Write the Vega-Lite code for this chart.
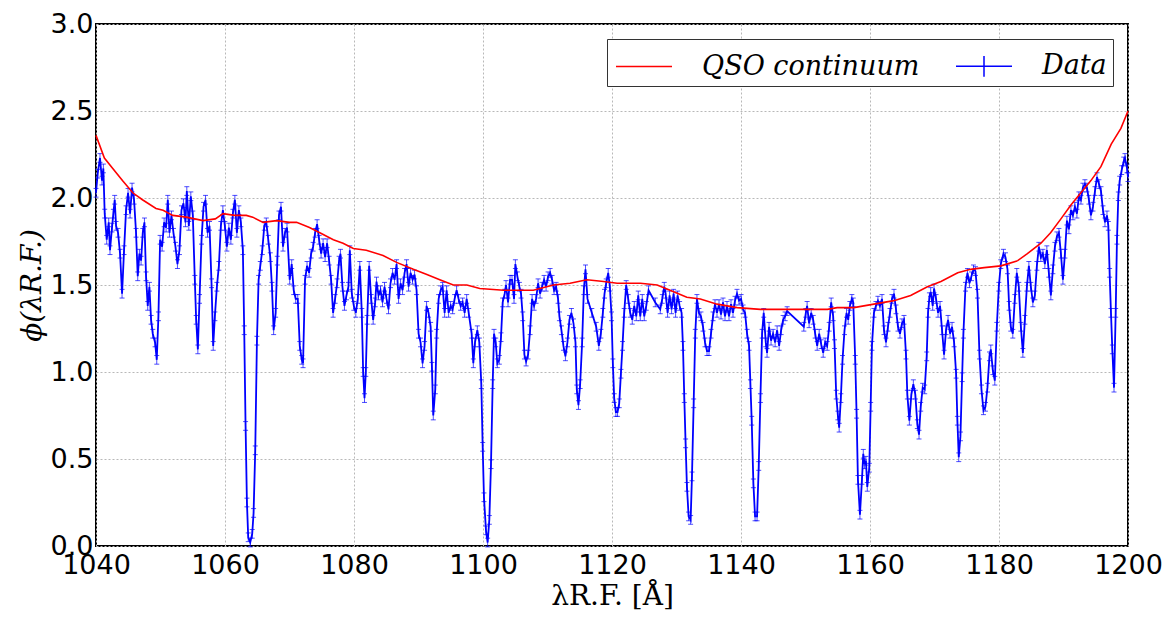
{
  "$schema": "https://vega.github.io/schema/vega-lite/v6.json",
  "autosize": {"type": "none"},
  "padding": {"left": 96, "top": 24, "right": 39, "bottom": 75},
  "width": 1032,
  "height": 522,
  "background": "white",
  "config": {
    "view": {"stroke": "#000000", "strokeWidth": 2},
    "axis": {
      "domain": false,
      "ticks": false,
      "tickSize": 0,
      "grid": true,
      "gridColor": "#b8b8b8",
      "gridDash": [2, 2],
      "gridWidth": 1,
      "labelFont": "DejaVu Sans",
      "labelFontSize": 27,
      "labelColor": "#000000",
      "labelOverlap": false,
      "labelFlush": false,
      "titleColor": "#000000",
      "titleFontWeight": "normal"
    }
  },
  "datasets": {
    "cont": [
      {"x":1040.0,"y":2.36},{"x":1041.3,"y":2.23},{"x":1042.6,"y":2.17},{"x":1044.1,"y":2.10},{"x":1045.7,"y":2.03},{"x":1047.2,"y":1.99},{"x":1049.3,"y":1.94},{"x":1050.4,"y":1.93},{"x":1051.9,"y":1.90},{"x":1054.0,"y":1.89},{"x":1056.6,"y":1.87},{"x":1058.5,"y":1.88},{"x":1059.7,"y":1.91},{"x":1061.5,"y":1.90},{"x":1063.3,"y":1.90},{"x":1064.3,"y":1.89},{"x":1065.9,"y":1.86},{"x":1068.0,"y":1.87},{"x":1070.0,"y":1.86},{"x":1071.1,"y":1.86},{"x":1073.1,"y":1.83},{"x":1074.7,"y":1.80},{"x":1076.8,"y":1.76},{"x":1078.3,"y":1.74},{"x":1079.9,"y":1.71},{"x":1081.9,"y":1.70},{"x":1084.5,"y":1.67},{"x":1086.6,"y":1.63},{"x":1089.2,"y":1.59},{"x":1091.3,"y":1.56},{"x":1093.3,"y":1.53},{"x":1095.4,"y":1.50},{"x":1097.5,"y":1.50},{"x":1099.5,"y":1.48},{"x":1103.2,"y":1.47},{"x":1107.8,"y":1.47},{"x":1110.9,"y":1.50},{"x":1113.5,"y":1.51},{"x":1116.1,"y":1.53},{"x":1118.7,"y":1.52},{"x":1120.8,"y":1.51},{"x":1124.4,"y":1.51},{"x":1127.0,"y":1.50},{"x":1129.0,"y":1.47},{"x":1131.6,"y":1.43},{"x":1133.7,"y":1.42},{"x":1136.3,"y":1.39},{"x":1139.4,"y":1.37},{"x":1143.0,"y":1.36},{"x":1145.6,"y":1.36},{"x":1148.2,"y":1.36},{"x":1150.8,"y":1.36},{"x":1153.4,"y":1.36},{"x":1154.9,"y":1.37},{"x":1157.5,"y":1.37},{"x":1160.6,"y":1.39},{"x":1163.7,"y":1.41},{"x":1166.3,"y":1.44},{"x":1168.9,"y":1.49},{"x":1171.0,"y":1.52},{"x":1173.6,"y":1.57},{"x":1175.6,"y":1.59},{"x":1177.7,"y":1.60},{"x":1180.3,"y":1.61},{"x":1182.9,"y":1.64},{"x":1184.4,"y":1.68},{"x":1186.5,"y":1.74},{"x":1188.0,"y":1.80},{"x":1189.6,"y":1.88},{"x":1191.15,"y":1.96},{"x":1192.7,"y":2.03},{"x":1194.25,"y":2.10},{"x":1195.8,"y":2.18},{"x":1197.4,"y":2.31},{"x":1198.9,"y":2.40},{"x":1200.0,"y":2.50}
    ],
    "obs": [
      {"x":1040.0,"y":2.03,"e":0.025},{"x":1040.26,"y":2.14,"e":0.025},{"x":1040.62,"y":2.23,"e":0.025},{"x":1040.93,"y":2.10,"e":0.025},{"x":1041.14,"y":2.17,"e":0.025},{"x":1041.35,"y":1.91,"e":0.025},{"x":1041.66,"y":1.76,"e":0.025},{"x":1041.97,"y":1.86,"e":0.025},{"x":1042.17,"y":1.70,"e":0.025},{"x":1042.48,"y":1.83,"e":0.025},{"x":1042.69,"y":1.91,"e":0.025},{"x":1042.90,"y":1.99,"e":0.025},{"x":1043.11,"y":1.84,"e":0.025},{"x":1043.42,"y":1.80,"e":0.025},{"x":1043.73,"y":1.68,"e":0.025},{"x":1044.04,"y":1.45,"e":0.025},{"x":1044.35,"y":1.70,"e":0.025},{"x":1044.66,"y":1.93,"e":0.025},{"x":1044.97,"y":2.03,"e":0.025},{"x":1045.28,"y":1.91,"e":0.025},{"x":1045.59,"y":2.06,"e":0.025},{"x":1045.90,"y":1.99,"e":0.025},{"x":1046.21,"y":1.80,"e":0.025},{"x":1046.47,"y":1.55,"e":0.025},{"x":1046.73,"y":1.68,"e":0.025},{"x":1046.99,"y":1.64,"e":0.025},{"x":1047.25,"y":1.80,"e":0.025},{"x":1047.51,"y":1.86,"e":0.025},{"x":1047.76,"y":1.55,"e":0.025},{"x":1048.02,"y":1.38,"e":0.025},{"x":1048.28,"y":1.49,"e":0.025},{"x":1048.54,"y":1.30,"e":0.025},{"x":1048.80,"y":1.22,"e":0.025},{"x":1049.16,"y":1.17,"e":0.025},{"x":1049.42,"y":1.07,"e":0.025},{"x":1049.68,"y":1.32,"e":0.025},{"x":1049.94,"y":1.76,"e":0.025},{"x":1050.25,"y":1.72,"e":0.025},{"x":1050.56,"y":1.86,"e":0.025},{"x":1050.87,"y":1.83,"e":0.025},{"x":1051.13,"y":1.99,"e":0.025},{"x":1051.39,"y":1.80,"e":0.025},{"x":1051.70,"y":1.90,"e":0.025},{"x":1052.01,"y":1.80,"e":0.025},{"x":1052.32,"y":1.72,"e":0.025},{"x":1052.63,"y":1.62,"e":0.025},{"x":1052.94,"y":1.70,"e":0.025},{"x":1053.25,"y":1.93,"e":0.025},{"x":1053.56,"y":1.97,"e":0.025},{"x":1053.87,"y":1.86,"e":0.025},{"x":1054.08,"y":2.04,"e":0.025},{"x":1054.39,"y":1.84,"e":0.025},{"x":1054.70,"y":2.01,"e":0.025},{"x":1055.01,"y":1.90,"e":0.025},{"x":1055.32,"y":1.53,"e":0.025},{"x":1055.53,"y":1.30,"e":0.025},{"x":1055.79,"y":1.13,"e":0.025},{"x":1056.05,"y":1.42,"e":0.025},{"x":1056.36,"y":1.76,"e":0.025},{"x":1056.67,"y":1.95,"e":0.025},{"x":1056.98,"y":1.99,"e":0.025},{"x":1057.29,"y":1.80,"e":0.025},{"x":1057.60,"y":1.84,"e":0.025},{"x":1057.91,"y":1.51,"e":0.025},{"x":1058.17,"y":1.15,"e":0.025},{"x":1058.43,"y":1.32,"e":0.025},{"x":1058.74,"y":1.49,"e":0.025},{"x":1059.05,"y":1.61,"e":0.025},{"x":1059.36,"y":1.84,"e":0.025},{"x":1059.67,"y":1.93,"e":0.025},{"x":1059.98,"y":1.84,"e":0.025},{"x":1060.29,"y":1.72,"e":0.025},{"x":1060.60,"y":1.83,"e":0.025},{"x":1060.91,"y":1.76,"e":0.025},{"x":1061.22,"y":1.91,"e":0.025},{"x":1061.53,"y":1.99,"e":0.025},{"x":1061.84,"y":1.80,"e":0.025},{"x":1062.15,"y":1.93,"e":0.025},{"x":1062.46,"y":1.86,"e":0.025},{"x":1062.77,"y":1.70,"e":0.025},{"x":1062.98,"y":1.24,"e":0.025},{"x":1063.19,"y":0.69,"e":0.025},{"x":1063.40,"y":0.25,"e":0.025},{"x":1063.60,"y":0.05,"e":0.025},{"x":1063.91,"y":0.02,"e":0.025},{"x":1064.22,"y":0.07,"e":0.025},{"x":1064.43,"y":0.19,"e":0.025},{"x":1064.69,"y":0.55,"e":0.025},{"x":1064.95,"y":1.18,"e":0.025},{"x":1065.21,"y":1.53,"e":0.025},{"x":1065.47,"y":1.61,"e":0.025},{"x":1065.78,"y":1.70,"e":0.025},{"x":1066.09,"y":1.84,"e":0.025},{"x":1066.40,"y":1.86,"e":0.025},{"x":1066.71,"y":1.76,"e":0.025},{"x":1067.02,"y":1.66,"e":0.025},{"x":1067.28,"y":1.49,"e":0.025},{"x":1067.54,"y":1.24,"e":0.025},{"x":1067.85,"y":1.34,"e":0.025},{"x":1068.11,"y":1.64,"e":0.025},{"x":1068.37,"y":1.90,"e":0.025},{"x":1068.68,"y":1.95,"e":0.025},{"x":1068.99,"y":1.72,"e":0.025},{"x":1069.30,"y":1.80,"e":0.025},{"x":1069.61,"y":1.83,"e":0.025},
      {"x":1070.03,"y":1.53,"e":0.025},{"x":1070.34,"y":1.62,"e":0.025},{"x":1070.65,"y":1.47,"e":0.025},{"x":1070.96,"y":1.42,"e":0.025},{"x":1071.28,"y":1.42,"e":0.025},{"x":1071.59,"y":1.15,"e":0.025},{"x":1071.90,"y":1.07,"e":0.025},{"x":1072.10,"y":1.05,"e":0.025},{"x":1072.41,"y":1.53,"e":0.025},{"x":1072.72,"y":1.61,"e":0.025},{"x":1073.04,"y":1.57,"e":0.025},{"x":1073.35,"y":1.68,"e":0.025},{"x":1073.66,"y":1.72,"e":0.025},{"x":1073.97,"y":1.80,"e":0.025},{"x":1074.28,"y":1.85,"e":0.025},{"x":1074.59,"y":1.76,"e":0.025},{"x":1074.90,"y":1.68,"e":0.025},{"x":1075.21,"y":1.74,"e":0.025},{"x":1075.52,"y":1.66,"e":0.025},{"x":1075.83,"y":1.74,"e":0.025},{"x":1076.14,"y":1.64,"e":0.025},{"x":1076.45,"y":1.53,"e":0.025},{"x":1076.76,"y":1.34,"e":0.025},{"x":1077.07,"y":1.42,"e":0.025},{"x":1077.38,"y":1.51,"e":0.025},{"x":1077.69,"y":1.64,"e":0.025},{"x":1077.90,"y":1.68,"e":0.025},{"x":1078.21,"y":1.49,"e":0.025},{"x":1078.52,"y":1.38,"e":0.025},{"x":1078.83,"y":1.44,"e":0.025},{"x":1079.14,"y":1.49,"e":0.025},{"x":1079.35,"y":1.70,"e":0.025},{"x":1079.66,"y":1.45,"e":0.025},{"x":1079.97,"y":1.38,"e":0.025},{"x":1080.28,"y":1.34,"e":0.025},{"x":1080.59,"y":1.42,"e":0.025},{"x":1080.90,"y":1.61,"e":0.025},{"x":1081.21,"y":1.34,"e":0.025},{"x":1081.42,"y":1.00,"e":0.025},{"x":1081.63,"y":0.85,"e":0.025},{"x":1081.83,"y":1.00,"e":0.025},{"x":1082.04,"y":1.30,"e":0.025},{"x":1082.35,"y":1.61,"e":0.025},{"x":1082.66,"y":1.42,"e":0.025},{"x":1082.97,"y":1.30,"e":0.025},{"x":1083.28,"y":1.40,"e":0.025},{"x":1083.49,"y":1.52,"e":0.025},{"x":1083.80,"y":1.44,"e":0.025},{"x":1084.11,"y":1.47,"e":0.025},{"x":1084.42,"y":1.40,"e":0.025},{"x":1084.73,"y":1.49,"e":0.025},{"x":1085.04,"y":1.42,"e":0.025},{"x":1085.35,"y":1.36,"e":0.025},{"x":1085.66,"y":1.51,"e":0.025},{"x":1085.98,"y":1.57,"e":0.025},{"x":1086.29,"y":1.53,"e":0.025},{"x":1086.60,"y":1.62,"e":0.025},{"x":1086.91,"y":1.42,"e":0.025},{"x":1087.22,"y":1.51,"e":0.025},{"x":1087.53,"y":1.47,"e":0.025},{"x":1087.84,"y":1.57,"e":0.025},{"x":1088.15,"y":1.62,"e":0.025},{"x":1088.46,"y":1.49,"e":0.025},{"x":1088.77,"y":1.57,"e":0.025},{"x":1089.08,"y":1.53,"e":0.025},{"x":1089.39,"y":1.56,"e":0.025},{"x":1089.70,"y":1.47,"e":0.025},{"x":1090.01,"y":1.22,"e":0.025},{"x":1090.32,"y":1.17,"e":0.025},{"x":1090.63,"y":1.05,"e":0.025},{"x":1090.94,"y":1.15,"e":0.025},{"x":1091.25,"y":1.38,"e":0.025},{"x":1091.56,"y":1.34,"e":0.025},{"x":1091.88,"y":1.26,"e":0.025},{"x":1092.08,"y":1.03,"e":0.025},{"x":1092.29,"y":0.75,"e":0.025},{"x":1092.60,"y":0.90,"e":0.025},{"x":1092.81,"y":1.22,"e":0.025},{"x":1093.12,"y":1.42,"e":0.025},{"x":1093.43,"y":1.47,"e":0.025},{"x":1093.74,"y":1.49,"e":0.025},{"x":1094.05,"y":1.34,"e":0.025},{"x":1094.36,"y":1.47,"e":0.025},{"x":1094.67,"y":1.34,"e":0.025},{"x":1094.98,"y":1.38,"e":0.025},{"x":1095.29,"y":1.36,"e":0.025},{"x":1095.60,"y":1.42,"e":0.025},{"x":1095.91,"y":1.47,"e":0.025},{"x":1096.22,"y":1.42,"e":0.025},{"x":1096.53,"y":1.38,"e":0.025},{"x":1096.84,"y":1.40,"e":0.025},{"x":1097.15,"y":1.34,"e":0.025},{"x":1097.47,"y":1.42,"e":0.025},{"x":1097.78,"y":1.34,"e":0.025},
      {"x":1098.24,"y":1.22,"e":0.025},{"x":1098.50,"y":1.05,"e":0.025},{"x":1098.76,"y":1.17,"e":0.025},{"x":1099.12,"y":1.24,"e":0.025},{"x":1099.43,"y":1.17,"e":0.025},{"x":1099.74,"y":0.93,"e":0.025},{"x":1099.95,"y":0.57,"e":0.025},{"x":1100.15,"y":0.28,"e":0.025},{"x":1100.46,"y":0.09,"e":0.025},{"x":1100.72,"y":0.02,"e":0.025},{"x":1100.98,"y":0.15,"e":0.025},{"x":1101.24,"y":0.47,"e":0.025},{"x":1101.50,"y":0.93,"e":0.025},{"x":1101.71,"y":1.22,"e":0.025},{"x":1101.97,"y":1.17,"e":0.025},{"x":1102.22,"y":1.05,"e":0.025},{"x":1102.53,"y":1.07,"e":0.025},{"x":1102.79,"y":1.20,"e":0.025},{"x":1103.05,"y":1.40,"e":0.025},{"x":1103.36,"y":1.45,"e":0.025},{"x":1103.57,"y":1.50,"e":0.025},{"x":1103.88,"y":1.40,"e":0.025},{"x":1104.19,"y":1.53,"e":0.025},{"x":1104.50,"y":1.53,"e":0.025},{"x":1104.81,"y":1.42,"e":0.025},{"x":1105.02,"y":1.62,"e":0.025},{"x":1105.33,"y":1.55,"e":0.025},{"x":1105.64,"y":1.49,"e":0.025},{"x":1105.90,"y":1.45,"e":0.025},{"x":1106.16,"y":1.32,"e":0.025},{"x":1106.42,"y":1.10,"e":0.025},{"x":1106.68,"y":1.06,"e":0.025},{"x":1106.99,"y":1.10,"e":0.025},{"x":1107.30,"y":1.24,"e":0.025},{"x":1107.61,"y":1.42,"e":0.025},{"x":1107.92,"y":1.38,"e":0.025},{"x":1108.23,"y":1.42,"e":0.025},{"x":1108.54,"y":1.51,"e":0.025},{"x":1108.85,"y":1.45,"e":0.025},{"x":1109.16,"y":1.49,"e":0.025},{"x":1109.47,"y":1.53,"e":0.025},{"x":1109.78,"y":1.49,"e":0.025},{"x":1110.09,"y":1.55,"e":0.025},{"x":1110.40,"y":1.57,"e":0.025},{"x":1110.71,"y":1.53,"e":0.025},{"x":1111.02,"y":1.47,"e":0.025},{"x":1111.33,"y":1.49,"e":0.025},{"x":1111.64,"y":1.42,"e":0.025},{"x":1111.85,"y":1.32,"e":0.025},{"x":1112.16,"y":1.24,"e":0.025},{"x":1112.47,"y":1.15,"e":0.025},{"x":1112.78,"y":1.09,"e":0.025},{"x":1113.09,"y":1.17,"e":0.025},{"x":1113.40,"y":1.30,"e":0.025},{"x":1113.71,"y":1.34,"e":0.025},{"x":1114.03,"y":1.28,"e":0.025},{"x":1114.34,"y":1.17,"e":0.025},{"x":1114.54,"y":0.90,"e":0.025},{"x":1114.80,"y":0.81,"e":0.025},{"x":1115.06,"y":0.93,"e":0.025},{"x":1115.37,"y":1.17,"e":0.025},{"x":1115.63,"y":1.47,"e":0.025},{"x":1115.89,"y":1.59,"e":0.025},{"x":1116.20,"y":1.42,"e":0.025},{"x":1116.87,"y":1.34,"e":0.025},{"x":1117.55,"y":1.26,"e":0.025},{"x":1117.96,"y":1.15,"e":0.025},{"x":1118.27,"y":1.22,"e":0.025},{"x":1118.58,"y":1.34,"e":0.025},{"x":1118.84,"y":1.45,"e":0.025},{"x":1119.10,"y":1.51,"e":0.025},{"x":1119.41,"y":1.57,"e":0.025},{"x":1119.67,"y":1.49,"e":0.025},{"x":1119.93,"y":1.32,"e":0.025},{"x":1120.13,"y":1.05,"e":0.025},{"x":1120.34,"y":0.85,"e":0.025},{"x":1120.60,"y":0.77,"e":0.025},{"x":1120.86,"y":0.77,"e":0.025},{"x":1121.12,"y":0.82,"e":0.025},{"x":1121.38,"y":0.99,"e":0.025},{"x":1121.63,"y":1.15,"e":0.025},{"x":1121.89,"y":1.34,"e":0.025},{"x":1122.20,"y":1.50,"e":0.025},{"x":1122.51,"y":1.42,"e":0.025},{"x":1122.82,"y":1.34,"e":0.025},{"x":1123.14,"y":1.30,"e":0.025},{"x":1123.45,"y":1.38,"e":0.025},{"x":1123.76,"y":1.32,"e":0.025},{"x":1124.07,"y":1.44,"e":0.025},{"x":1124.38,"y":1.32,"e":0.025},{"x":1124.69,"y":1.42,"e":0.025},{"x":1125.00,"y":1.32,"e":0.025},{"x":1125.31,"y":1.38,"e":0.025},{"x":1125.67,"y":1.47,"e":0.025},{"x":1126.71,"y":1.40,"e":0.025},
      {"x":1127.48,"y":1.36,"e":0.025},{"x":1127.79,"y":1.42,"e":0.025},{"x":1128.10,"y":1.49,"e":0.025},{"x":1128.31,"y":1.45,"e":0.025},{"x":1128.62,"y":1.34,"e":0.025},{"x":1128.93,"y":1.44,"e":0.025},{"x":1129.24,"y":1.36,"e":0.025},{"x":1129.55,"y":1.45,"e":0.025},{"x":1129.86,"y":1.34,"e":0.025},{"x":1130.17,"y":1.44,"e":0.025},{"x":1130.48,"y":1.38,"e":0.025},{"x":1130.79,"y":1.34,"e":0.025},{"x":1131.00,"y":1.15,"e":0.025},{"x":1131.21,"y":0.85,"e":0.025},{"x":1131.41,"y":0.59,"e":0.025},{"x":1131.62,"y":0.34,"e":0.025},{"x":1131.88,"y":0.17,"e":0.025},{"x":1132.19,"y":0.15,"e":0.025},{"x":1132.40,"y":0.40,"e":0.025},{"x":1132.66,"y":0.82,"e":0.025},{"x":1132.91,"y":1.22,"e":0.025},{"x":1133.17,"y":1.42,"e":0.025},{"x":1133.48,"y":1.34,"e":0.025},{"x":1133.79,"y":1.32,"e":0.025},{"x":1134.11,"y":1.26,"e":0.025},{"x":1134.42,"y":1.17,"e":0.025},{"x":1134.73,"y":1.12,"e":0.025},{"x":1135.04,"y":1.12,"e":0.025},{"x":1135.35,"y":1.22,"e":0.025},{"x":1135.66,"y":1.32,"e":0.025},{"x":1135.97,"y":1.39,"e":0.025},{"x":1136.28,"y":1.34,"e":0.025},{"x":1136.59,"y":1.39,"e":0.025},{"x":1136.90,"y":1.33,"e":0.025},{"x":1137.21,"y":1.40,"e":0.025},{"x":1137.52,"y":1.32,"e":0.025},{"x":1137.83,"y":1.38,"e":0.025},{"x":1138.14,"y":1.32,"e":0.025},{"x":1138.45,"y":1.39,"e":0.025},{"x":1138.76,"y":1.34,"e":0.025},{"x":1139.07,"y":1.41,"e":0.025},{"x":1139.38,"y":1.45,"e":0.025},{"x":1139.70,"y":1.41,"e":0.025},{"x":1140.01,"y":1.42,"e":0.025},{"x":1140.32,"y":1.36,"e":0.025},{"x":1140.63,"y":1.34,"e":0.025},{"x":1140.94,"y":1.22,"e":0.025},{"x":1141.25,"y":1.15,"e":0.025},{"x":1141.46,"y":0.93,"e":0.025},{"x":1141.66,"y":0.72,"e":0.025},{"x":1141.92,"y":0.36,"e":0.025},{"x":1142.18,"y":0.17,"e":0.025},{"x":1142.49,"y":0.17,"e":0.025},{"x":1142.75,"y":0.46,"e":0.025},{"x":1143.01,"y":0.85,"e":0.025},{"x":1143.27,"y":1.22,"e":0.025},{"x":1143.52,"y":1.34,"e":0.025},{"x":1143.84,"y":1.17,"e":0.025},{"x":1144.04,"y":1.11,"e":0.025},{"x":1144.35,"y":1.26,"e":0.025},{"x":1144.66,"y":1.18,"e":0.025},{"x":1144.97,"y":1.22,"e":0.025},{"x":1145.29,"y":1.17,"e":0.025},{"x":1145.60,"y":1.24,"e":0.025},{"x":1145.91,"y":1.15,"e":0.025},{"x":1146.22,"y":1.24,"e":0.025},{"x":1146.53,"y":1.30,"e":0.025},{"x":1146.84,"y":1.32,"e":0.025},{"x":1147.15,"y":1.35,"e":0.025},{"x":1149.74,"y":1.26,"e":0.025},{"x":1150.05,"y":1.34,"e":0.025},{"x":1150.25,"y":1.38,"e":0.025},{"x":1150.56,"y":1.28,"e":0.025},{"x":1150.88,"y":1.34,"e":0.025},{"x":1151.19,"y":1.30,"e":0.025},{"x":1151.50,"y":1.22,"e":0.025},{"x":1151.81,"y":1.15,"e":0.025},{"x":1152.12,"y":1.22,"e":0.025},{"x":1152.43,"y":1.16,"e":0.025},{"x":1152.74,"y":1.11,"e":0.025},{"x":1153.05,"y":1.17,"e":0.025},{"x":1153.36,"y":1.15,"e":0.025},{"x":1153.67,"y":1.26,"e":0.025},{"x":1153.98,"y":1.40,"e":0.025},{"x":1154.29,"y":1.32,"e":0.025},{"x":1154.50,"y":1.16,"e":0.025},{"x":1154.76,"y":0.87,"e":0.025},{"x":1155.02,"y":0.75,"e":0.025},{"x":1155.22,"y":0.68,"e":0.025},{"x":1155.48,"y":0.85,"e":0.025},{"x":1155.74,"y":1.07,"e":0.025},{"x":1156.05,"y":1.24,"e":0.025},{"x":1156.36,"y":1.34,"e":0.025},{"x":1156.62,"y":1.30,"e":0.025},{"x":1156.88,"y":1.38,"e":0.025},{"x":1157.19,"y":1.42,"e":0.025},{"x":1157.40,"y":1.40,"e":0.025},
      {"x":1157.71,"y":1.07,"e":0.025},{"x":1157.92,"y":0.76,"e":0.025},{"x":1158.13,"y":0.38,"e":0.025},{"x":1158.44,"y":0.18,"e":0.025},{"x":1158.75,"y":0.38,"e":0.025},{"x":1158.96,"y":0.53,"e":0.025},{"x":1159.16,"y":0.47,"e":0.025},{"x":1159.37,"y":0.49,"e":0.025},{"x":1159.58,"y":0.34,"e":0.025},{"x":1159.89,"y":0.45,"e":0.025},{"x":1160.10,"y":0.80,"e":0.025},{"x":1160.30,"y":1.15,"e":0.025},{"x":1160.61,"y":1.34,"e":0.025},{"x":1160.92,"y":1.38,"e":0.025},{"x":1161.23,"y":1.41,"e":0.025},{"x":1161.54,"y":1.38,"e":0.025},{"x":1161.86,"y":1.42,"e":0.025},{"x":1162.17,"y":1.24,"e":0.025},{"x":1162.48,"y":1.17,"e":0.025},{"x":1162.79,"y":1.26,"e":0.025},{"x":1163.10,"y":1.34,"e":0.025},{"x":1163.41,"y":1.42,"e":0.025},{"x":1163.72,"y":1.45,"e":0.025},{"x":1164.03,"y":1.36,"e":0.025},{"x":1164.34,"y":1.26,"e":0.025},{"x":1164.65,"y":1.22,"e":0.025},{"x":1164.96,"y":1.28,"e":0.025},{"x":1165.27,"y":1.30,"e":0.025},{"x":1165.58,"y":1.10,"e":0.025},{"x":1165.79,"y":0.87,"e":0.025},{"x":1166.10,"y":0.72,"e":0.025},{"x":1166.41,"y":0.87,"e":0.025},{"x":1166.72,"y":0.93,"e":0.025},{"x":1167.03,"y":0.87,"e":0.025},{"x":1167.34,"y":0.70,"e":0.025},{"x":1167.60,"y":0.64,"e":0.025},{"x":1167.86,"y":0.80,"e":0.025},{"x":1168.17,"y":0.91,"e":0.025},{"x":1168.48,"y":0.90,"e":0.025},{"x":1168.79,"y":1.09,"e":0.025},{"x":1169.00,"y":1.34,"e":0.025},{"x":1169.21,"y":1.43,"e":0.025},{"x":1169.41,"y":1.46,"e":0.025},{"x":1169.72,"y":1.38,"e":0.025},{"x":1169.93,"y":1.48,"e":0.025},{"x":1170.24,"y":1.42,"e":0.025},{"x":1170.55,"y":1.34,"e":0.025},{"x":1170.86,"y":1.38,"e":0.025},{"x":1171.17,"y":1.24,"e":0.025},{"x":1171.48,"y":1.10,"e":0.025},{"x":1171.79,"y":1.24,"e":0.025},{"x":1172.10,"y":1.30,"e":0.025},{"x":1172.41,"y":1.22,"e":0.025},{"x":1172.72,"y":1.26,"e":0.025},{"x":1173.04,"y":1.17,"e":0.025},{"x":1173.35,"y":0.99,"e":0.025},{"x":1173.55,"y":0.72,"e":0.025},{"x":1173.76,"y":0.51,"e":0.025},{"x":1174.02,"y":0.63,"e":0.025},{"x":1174.28,"y":0.97,"e":0.025},{"x":1174.48,"y":1.22,"e":0.025},{"x":1174.80,"y":1.49,"e":0.025},{"x":1175.11,"y":1.57,"e":0.025},{"x":1175.42,"y":1.51,"e":0.025},{"x":1175.73,"y":1.55,"e":0.025},{"x":1176.04,"y":1.59,"e":0.025},{"x":1176.35,"y":1.58,"e":0.025},{"x":1176.66,"y":1.45,"e":0.025},{"x":1176.97,"y":1.10,"e":0.025},{"x":1177.28,"y":0.90,"e":0.025},{"x":1177.59,"y":0.78,"e":0.025},{"x":1177.90,"y":0.80,"e":0.025},{"x":1178.21,"y":0.91,"e":0.025},{"x":1178.52,"y":1.09,"e":0.025},{"x":1178.73,"y":1.13,"e":0.025},{"x":1179.04,"y":1.01,"e":0.025},{"x":1179.35,"y":0.95,"e":0.025},{"x":1179.66,"y":1.26,"e":0.025},{"x":1179.97,"y":1.49,"e":0.025},
      {"x":1180.28,"y":1.62,"e":0.025},{"x":1180.69,"y":1.68,"e":0.025},{"x":1181.00,"y":1.66,"e":0.025},{"x":1181.32,"y":1.59,"e":0.025},{"x":1181.57,"y":1.38,"e":0.025},{"x":1181.83,"y":1.26,"e":0.025},{"x":1182.14,"y":1.22,"e":0.025},{"x":1182.45,"y":1.42,"e":0.025},{"x":1182.76,"y":1.57,"e":0.025},{"x":1183.07,"y":1.49,"e":0.025},{"x":1183.39,"y":1.26,"e":0.025},{"x":1183.70,"y":1.11,"e":0.025},{"x":1184.01,"y":1.30,"e":0.025},{"x":1184.32,"y":1.49,"e":0.025},{"x":1184.63,"y":1.61,"e":0.025},{"x":1184.94,"y":1.49,"e":0.025},{"x":1185.25,"y":1.40,"e":0.025},{"x":1185.56,"y":1.44,"e":0.025},{"x":1185.87,"y":1.61,"e":0.025},{"x":1186.18,"y":1.72,"e":0.025},{"x":1186.49,"y":1.66,"e":0.025},{"x":1186.80,"y":1.68,"e":0.025},{"x":1187.11,"y":1.62,"e":0.025},{"x":1187.42,"y":1.70,"e":0.025},{"x":1187.73,"y":1.57,"e":0.025},{"x":1188.04,"y":1.44,"e":0.025},{"x":1188.35,"y":1.59,"e":0.025},{"x":1188.67,"y":1.72,"e":0.025},{"x":1188.98,"y":1.78,"e":0.025},{"x":1189.29,"y":1.80,"e":0.025},{"x":1189.60,"y":1.68,"e":0.025},{"x":1189.91,"y":1.53,"e":0.025},{"x":1190.22,"y":1.68,"e":0.025},{"x":1190.53,"y":1.87,"e":0.025},{"x":1190.84,"y":1.82,"e":0.025},{"x":1191.15,"y":1.93,"e":0.025},{"x":1191.46,"y":1.90,"e":0.025},{"x":1191.77,"y":1.95,"e":0.025},{"x":1192.08,"y":1.91,"e":0.025},{"x":1192.39,"y":2.01,"e":0.025},{"x":1192.70,"y":1.99,"e":0.025},{"x":1193.01,"y":2.06,"e":0.025},{"x":1193.32,"y":2.08,"e":0.025},{"x":1193.63,"y":2.06,"e":0.025},{"x":1193.94,"y":1.99,"e":0.025},{"x":1194.25,"y":1.90,"e":0.025},{"x":1194.57,"y":1.95,"e":0.025},{"x":1194.88,"y":2.04,"e":0.025},{"x":1195.19,"y":2.12,"e":0.025},{"x":1195.50,"y":2.08,"e":0.025},{"x":1195.81,"y":2.04,"e":0.025},{"x":1196.12,"y":1.93,"e":0.025},{"x":1196.43,"y":1.86,"e":0.025},{"x":1196.74,"y":1.90,"e":0.025},{"x":1196.95,"y":1.84,"e":0.025},{"x":1197.15,"y":1.57,"e":0.025},{"x":1197.36,"y":1.34,"e":0.025},{"x":1197.57,"y":1.13,"e":0.025},{"x":1197.83,"y":0.91,"e":0.025},{"x":1198.09,"y":1.34,"e":0.025},{"x":1198.29,"y":1.76,"e":0.025},{"x":1198.50,"y":2.01,"e":0.025},{"x":1198.71,"y":2.10,"e":0.025},{"x":1199.02,"y":2.16,"e":0.025},{"x":1199.33,"y":2.21,"e":0.025},{"x":1199.53,"y":2.23,"e":0.025},{"x":1199.85,"y":2.17,"e":0.025},{"x":1200.0,"y":2.12,"e":0.025}
    ]
  },
  "encoding": {
    "x": {
      "field": "x",
      "type": "quantitative",
      "scale": {"domain": [1040, 1200], "nice": false, "zero": false},
      "axis": {
        "values": [1040, 1060, 1080, 1100, 1120, 1140, 1160, 1180, 1200],
        "format": "d",
        "labelPadding": 6,
        "title": "λR.F. [Å]",
        "titleFont": "DejaVu Serif",
        "titleFontSize": 28,
        "titlePadding": 4
      }
    },
    "y": {
      "field": "y",
      "type": "quantitative",
      "scale": {"domain": [0, 3], "nice": false},
      "axis": {
        "values": [0, 0.5, 1, 1.5, 2, 2.5, 3],
        "format": ".1f",
        "labelPadding": 3,
        "title": "ϕ(λR.F.)",
        "titleFont": "DejaVu Serif",
        "titleFontStyle": "italic",
        "titleFontSize": 28,
        "titlePadding": 4
      }
    }
  },
  "layer": [
    {
      "data": {"name": "obs"},
      "mark": {"type": "errorbar", "ticks": {"size": 5}, "thickness": 1, "opacity": 0.7},
      "encoding": {
        "yError": {"field": "e"},
        "color": {"datum": "Data"}
      }
    },
    {
      "data": {"name": "obs"},
      "mark": {"type": "line", "strokeWidth": 1.8},
      "encoding": {
        "color": {"datum": "Data"}
      }
    },
    {
      "data": {"name": "cont"},
      "mark": {"type": "line", "strokeWidth": 1.6},
      "encoding": {
        "color": {
          "datum": "QSO continuum",
          "scale": {"domain": ["QSO continuum", "Data"], "range": ["#ff0000", "#0000ff"]},
          "legend": {
            "title": null,
            "orient": "top-right",
            "offset": 15,
            "direction": "horizontal",
            "padding": 6,
            "strokeColor": "#333333",
            "fillColor": "#ffffff",
            "symbolSize": 1600,
            "symbolStrokeWidth": 1.5,
            "symbolType": "M-0.9,0L1.9,0",
            "labelFont": "DejaVu Serif",
            "labelFontStyle": "italic",
            "labelFontSize": 27,
            "labelColor": "#000000",
            "labelLimit": 0,
            "labelOffset": 47,
            "columnPadding": 33,
            "encode": {
              "symbols": {
                "update": {
                  "shape": {"signal": "datum.value === 'Data' ? 'M-0.9,0L1.9,0M0.5,-0.52L0.5,0.52' : 'M-0.9,0L1.9,0'"}
                }
              }
            }
          }
        }
      }
    }
  ]
}
